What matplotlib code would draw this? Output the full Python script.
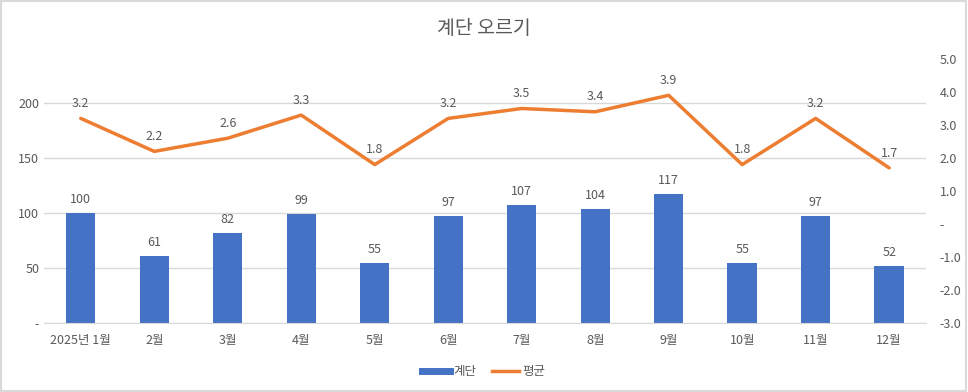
import matplotlib
matplotlib.use("Agg")
import matplotlib.pyplot as plt
from matplotlib.lines import Line2D
from matplotlib.patches import Rectangle
from matplotlib.ticker import FuncFormatter, MultipleLocator

plt.rcParams['font.family'] = ['Noto Sans CJK KR', 'DejaVu Sans']

categories = ["2025년 1월", "2월", "3월", "4월", "5월", "6월", "7월", "8월", "9월", "10월", "11월", "12월"]
stairs = [100, 61, 82, 99, 55, 97, 107, 104, 117, 55, 97, 52]
average = [3.2, 2.2, 2.6, 3.3, 1.8, 3.2, 3.5, 3.4, 3.9, 1.8, 3.2, 1.7]
title = "계단 오르기"
series_names = ["계단", "평균"]

bar_color = "#4472C4"
line_color = "#ED7D31"
text_color = "#595959"
grid_color = "#D9D9D9"

fig = plt.figure(figsize=(9.68, 3.92), dpi=100)
ax = fig.add_axes([0.0455, 0.176, 0.911, 0.6735])
ax2 = ax.twinx()

x = list(range(len(categories)))
ax.bar(x, stairs, width=0.4, color=bar_color, zorder=2)
ax.set_xlim(-0.5, len(categories) - 0.5)
ax.set_ylim(0, 240)
ax.yaxis.set_major_locator(MultipleLocator(50))
ax.set_yticks([0, 50, 100, 150, 200])
ax.yaxis.set_major_formatter(FuncFormatter(lambda v, p: "-" if v == 0 else f"{v:.0f}"))
ax.grid(axis='y', color=grid_color, linewidth=1, zorder=0)
ax.set_axisbelow(True)
for s in ax.spines.values():
    s.set_visible(False)
for s in ax2.spines.values():
    s.set_visible(False)
ax.spines['bottom'].set_visible(True)
ax.spines['bottom'].set_color(grid_color)
ax.tick_params(axis='both', length=0, colors=text_color, labelsize=9)
ax.tick_params(axis='x', pad=8)
ax.set_xticks(x)
ax.set_xticklabels(categories)

for xi, v in zip(x, stairs):
    ax.annotate(f"{v}", (xi, v), xytext=(0, 5), textcoords='offset points',
                ha='center', va='bottom', fontsize=9, color=text_color)

ax2.plot(x, average, color=line_color, linewidth=2.5, solid_capstyle='round', zorder=3)
ax2.set_ylim(-3, 5)
ax2.yaxis.set_major_locator(MultipleLocator(1))
ax2.yaxis.set_major_formatter(FuncFormatter(lambda v, p: "-" if abs(v) < 1e-9 else f"{v:.1f}"))
ax2.tick_params(axis='y', length=0, colors=text_color, labelsize=9, pad=10)
for xi, v in zip(x, average):
    ax2.annotate(f"{v:.1f}", (xi, v), xytext=(0, 6), textcoords='offset points',
                 ha='center', va='bottom', fontsize=9, color=text_color)

fig.text(0.5, 0.928, title, ha='center', va='center', fontsize=14, color=text_color)

handles = [Line2D([], [], color=bar_color, linewidth=5),
           Line2D([], [], color=line_color, linewidth=2.5)]
fig.legend(handles, series_names, loc='center', bbox_to_anchor=(0.5, 0.052), ncol=2,
           frameon=False, fontsize=9, labelcolor=text_color, handlelength=2.2,
           handletextpad=0.3, columnspacing=1.2)

fig.patches.append(Rectangle((0.001, 0.002), 0.997, 0.995, transform=fig.transFigure,
                             fill=False, edgecolor="#D9D9D9", linewidth=1.5))

fig.savefig("out.png", dpi=100, facecolor='white')
